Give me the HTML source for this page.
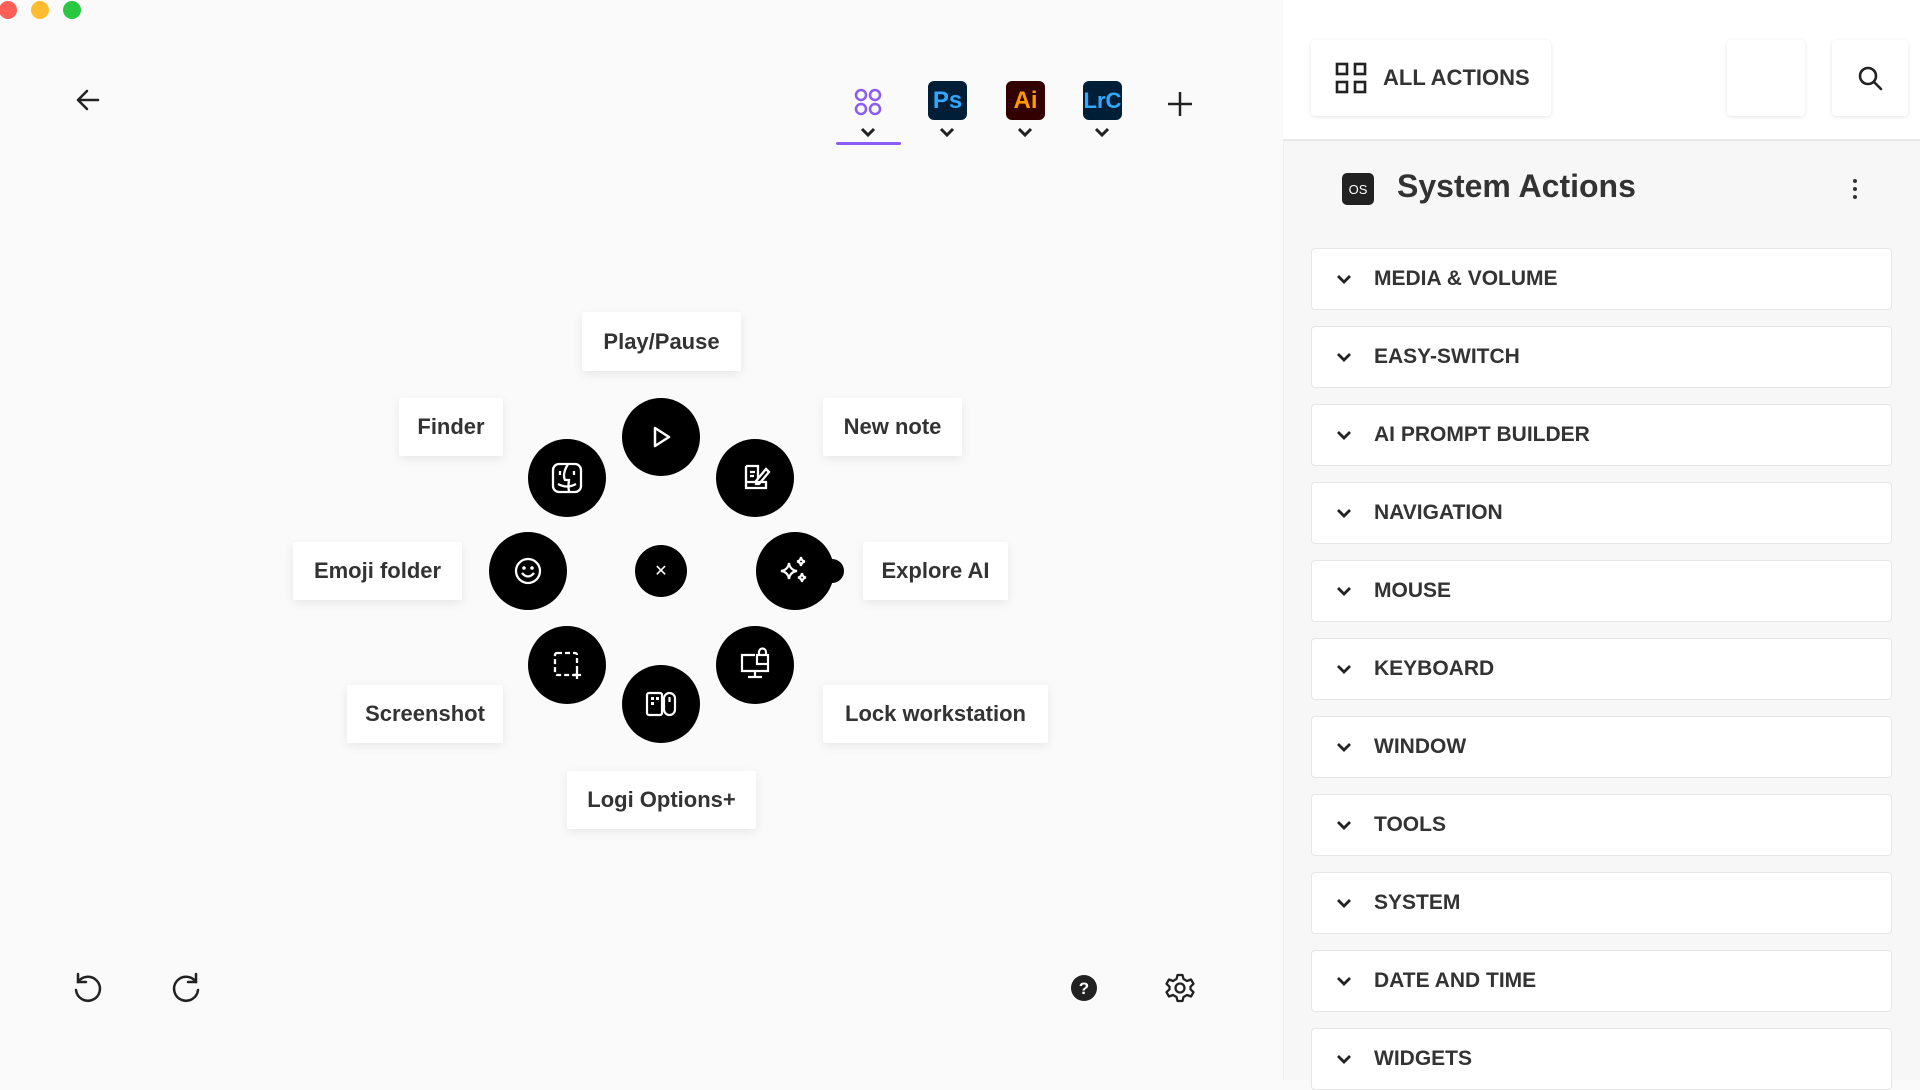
<!DOCTYPE html>
<html><head><meta charset="utf-8"><style>
*{margin:0;padding:0;box-sizing:border-box}
body{width:1920px;height:1080px;overflow:hidden;background:#fafafa;font-family:"Liberation Sans",sans-serif;color:#222;position:relative}
.abs{position:absolute}
.lbl{position:absolute;background:#fff;box-shadow:0 3px 10px rgba(0,0,0,.08);display:flex;align-items:center;justify-content:center;font-size:22px;font-weight:700;color:#333;border-radius:2px}
.dot{position:absolute;width:78px;height:78px;border-radius:50%;background:#000;display:flex;align-items:center;justify-content:center}
.row{position:absolute;left:1311px;width:581px;height:62px;background:#fff;border:1px solid #e6e6e6;border-radius:4px;display:flex;align-items:center;font-size:21px;font-weight:700;color:#333}
.row svg{margin-left:24px;margin-right:22px}
.tab{position:absolute;width:39px;height:39px;border-radius:6px;display:flex;align-items:center;justify-content:center;font-weight:700;font-size:24px}
.chev{position:absolute;top:126px}
</style></head><body>
<!-- traffic lights -->
<div class="abs" style="left:-1px;top:1px;width:18px;height:18px;border-radius:50%;background:#fe5f57"></div>
<div class="abs" style="left:31px;top:1px;width:18px;height:18px;border-radius:50%;background:#febc2e"></div>
<div class="abs" style="left:63px;top:1px;width:18px;height:18px;border-radius:50%;background:#28c840"></div>
<!-- back arrow -->
<svg class="abs" style="left:74px;top:86px" width="28" height="28" viewBox="0 0 28 28"><path d="M24 14H4M13 5L4 14l9 9" stroke="#222" stroke-width="2.5" fill="none" stroke-linecap="round" stroke-linejoin="round"/></svg>
<!-- tabs -->
<svg class="abs" style="left:852px;top:86px" width="32" height="32" viewBox="0 0 32 32"><g fill="none" stroke="#8b5cf6" stroke-width="2.5"><circle cx="9" cy="9" r="5"/><circle cx="23" cy="9" r="5"/><circle cx="9" cy="23" r="5"/><circle cx="23" cy="23" r="5"/></g></svg>
<div class="tab" style="left:928px;top:81px;background:#001e36;color:#31a8ff">Ps</div>
<div class="tab" style="left:1006px;top:81px;background:#330000;color:#ff9a00">Ai</div>
<div class="tab" style="left:1083px;top:81px;background:#001e36;color:#31a8ff;font-size:22px">LrC</div>
<svg class="chev" style="left:859px" width="18" height="12" viewBox="0 0 18 12"><path d="M3 3l6 6 6-6" stroke="#222" stroke-width="3" fill="none"/></svg>
<svg class="chev" style="left:938px" width="18" height="12" viewBox="0 0 18 12"><path d="M3 3l6 6 6-6" stroke="#222" stroke-width="3" fill="none"/></svg>
<svg class="chev" style="left:1016px" width="18" height="12" viewBox="0 0 18 12"><path d="M3 3l6 6 6-6" stroke="#222" stroke-width="3" fill="none"/></svg>
<svg class="chev" style="left:1093px" width="18" height="12" viewBox="0 0 18 12"><path d="M3 3l6 6 6-6" stroke="#222" stroke-width="3" fill="none"/></svg>
<div class="abs" style="left:836px;top:142px;width:65px;height:3px;background:#8b5cf6;border-radius:2px"></div>
<svg class="abs" style="left:1166px;top:90px" width="28" height="28" viewBox="0 0 28 28"><path d="M14 2v24M2 14h24" stroke="#222" stroke-width="2.5"/></svg>

<!-- radial -->
<div class="lbl" style="left:582px;top:312px;width:159px;height:59px">Play/Pause</div>
<div class="lbl" style="left:399px;top:398px;width:104px;height:58px">Finder</div>
<div class="lbl" style="left:823px;top:398px;width:139px;height:58px">New note</div>
<div class="lbl" style="left:293px;top:542px;width:169px;height:58px">Emoji folder</div>
<div class="lbl" style="left:863px;top:542px;width:145px;height:58px">Explore AI</div>
<div class="lbl" style="left:347px;top:685px;width:156px;height:58px">Screenshot</div>
<div class="lbl" style="left:823px;top:685px;width:225px;height:58px">Lock workstation</div>
<div class="lbl" style="left:567px;top:771px;width:189px;height:58px">Logi Options+</div>

<div class="dot" style="left:635px;top:545px;width:52px;height:52px"><span style="color:#fff;font-size:16px">✕</span></div>
<div class="dot" style="left:622px;top:398px"><svg width="30" height="30" viewBox="0 0 30 30"><path d="M9 6l14 9-14 9z" stroke="#fff" stroke-width="2.5" fill="none" stroke-linejoin="round"/></svg></div>
<div class="dot" style="left:716px;top:439px"><svg width="34" height="34" viewBox="0 0 34 34"><g stroke="#fff" stroke-width="2.3" fill="none"><path d="M8 5h12v12M8 5v22h20v-6H8"/><path d="M12 11h5M12 15h4M18 20l10-12 3 3-10 12h-3z"/></g></svg></div>
<div class="dot" style="left:756px;top:532px"><svg width="36" height="36" viewBox="0 0 36 36"><g stroke="#fff" stroke-width="2.2" fill="none"><path d="M12 10q1 7 8 8q-7 1-8 8q-1-7-8-8q7-1 8-8z"/><path d="M24 4q.5 4 4 4.5q-3.5.5-4 4.5q-.5-4-4-4.5q3.5-.5 4-4.5z"/><path d="M25 20q.5 4 4 4.5q-3.5.5-4 4.5q-.5-4-4-4.5q3.5-.5 4-4.5z"/></g></svg></div>
<div class="abs" style="left:826px;top:559px;width:18px;height:24px;border-radius:0 12px 12px 0;background:#000"></div>
<div class="dot" style="left:716px;top:626px"><svg width="36" height="36" viewBox="0 0 36 36"><g stroke="#fff" stroke-width="2.2" fill="none"><path d="M18 8H5v16h26v-6M18 24v5M11 30h14"/><rect x="20" y="8" width="11" height="9"/><path d="M22 8V5a3.5 3.5 0 0 1 7 0v3"/></g></svg></div>
<div class="dot" style="left:622px;top:665px"><svg width="36" height="36" viewBox="0 0 36 36"><g stroke="#fff" stroke-width="2.2" fill="none"><rect x="4" y="7" width="15" height="22" rx="2"/><rect x="21" y="7" width="11" height="22" rx="5.5"/><path d="M26.5 11v5"/></g><g fill="#fff"><rect x="8" y="11" width="3" height="3"/><rect x="13" y="11" width="3" height="3"/><rect x="8" y="16" width="3" height="3"/></g></svg></div>
<div class="dot" style="left:528px;top:626px"><svg width="36" height="36" viewBox="0 0 36 36"><g stroke="#fff" stroke-width="2.3" fill="none" stroke-dasharray="5 3"><rect x="6" y="6" width="22" height="22" rx="2"/></g><path d="M28 24v8M24 28h8" stroke="#fff" stroke-width="2.3"/></svg></div>
<div class="dot" style="left:489px;top:532px"><svg width="34" height="34" viewBox="0 0 34 34"><g stroke="#fff" stroke-width="2.3" fill="none"><circle cx="17" cy="17" r="12"/><path d="M11 19q6 7 12 0"/></g><circle cx="13" cy="14" r="1.8" fill="#fff"/><circle cx="21" cy="14" r="1.8" fill="#fff"/></svg></div>
<div class="dot" style="left:528px;top:439px"><svg width="38" height="38" viewBox="0 0 38 38"><g stroke="#fff" stroke-width="2.3" fill="none"><rect x="5" y="5" width="28" height="28" rx="6"/><path d="M20 5q-6 10-3 16h4q-1 6 0 12M12 12v4M26 12v4M10 25q9 5 18 0"/></g></svg></div>

<!-- bottom left -->
<svg class="abs" style="left:70px;top:970px" width="36" height="36" viewBox="0 0 36 36"><g stroke="#222" stroke-width="2.5" fill="none" stroke-linecap="round"><path d="M8 12A12 12 0 1 1 6 20"/><path d="M8 4v8h8"/></g></svg>
<svg class="abs" style="left:168px;top:970px" width="36" height="36" viewBox="0 0 36 36"><g stroke="#222" stroke-width="2.5" fill="none" stroke-linecap="round"><path d="M28 12A12 12 0 1 0 30 20"/><path d="M28 4v8h-8"/></g></svg>
<svg class="abs" style="left:1070px;top:974px" width="28" height="28" viewBox="0 0 28 28"><circle cx="14" cy="14" r="13" fill="#222"/><text x="14" y="20" text-anchor="middle" fill="#fff" font-size="17" font-weight="700" font-family="Liberation Sans">?</text></svg>
<svg class="abs" style="left:1164px;top:972px" width="32" height="32" viewBox="0 0 32 32"><g stroke="#222" stroke-width="2.3" fill="none"><circle cx="16" cy="16" r="4.5"/><path d="M13.5 3h5l1 4 3.5 2 4-1.5 2.5 4.3-3 2.9v2.6l3 2.9-2.5 4.3-4-1.5-3.5 2-1 4h-5l-1-4-3.5-2-4 1.5-2.5-4.3 3-2.9v-2.6l-3-2.9 2.5-4.3 4 1.5 3.5-2z" stroke-linejoin="round"/></g></svg>

<!-- right panel -->
<div class="abs" style="left:1283px;top:0;width:637px;height:1080px;background:#f7f7f7;border-left:1px solid #ececec"></div>
<div class="abs" style="left:1283px;top:0;width:637px;height:141px;background:#fff;border-bottom:2px solid #e8e8e8"></div>
<div class="abs" style="left:1311px;top:40px;width:240px;height:76px;background:#fff;border-radius:4px;box-shadow:0 1px 4px rgba(0,0,0,.1);display:flex;align-items:center;font-size:22px;font-weight:700;color:#333">
<svg style="margin-left:24px;margin-right:16px" width="32" height="32" viewBox="0 0 32 32"><g stroke="#222" stroke-width="2.6" fill="none"><rect x="2" y="2" width="10" height="10"/><rect x="20" y="2" width="10" height="10"/><rect x="2" y="20" width="10" height="10"/><rect x="20" y="20" width="10" height="10"/></g></svg>ALL ACTIONS</div>
<div class="abs" style="left:1727px;top:40px;width:78px;height:76px;background:#fff;border-radius:4px;box-shadow:0 1px 4px rgba(0,0,0,.1)"></div>
<div class="abs" style="left:1832px;top:40px;width:76px;height:76px;background:#fff;border-radius:4px;box-shadow:0 1px 4px rgba(0,0,0,.1)"></div>
<svg class="abs" style="left:1856px;top:64px" width="28" height="28" viewBox="0 0 28 28"><g stroke="#222" stroke-width="2.6" fill="none" stroke-linecap="round"><circle cx="12" cy="12" r="8"/><path d="M18 18l7 7"/></g></svg>
<div class="abs" style="left:1342px;top:173px;width:32px;height:32px;background:#222;border-radius:5px;color:#fff;font-size:13px;display:flex;align-items:center;justify-content:center">OS</div>
<div class="abs" style="left:1397px;top:168px;font-size:32px;font-weight:700;color:#333">System Actions</div>
<svg class="abs" style="left:1851px;top:178px" width="8" height="22" viewBox="0 0 8 22"><g fill="#333"><circle cx="4" cy="3" r="2"/><circle cx="4" cy="11" r="2"/><circle cx="4" cy="19" r="2"/></g></svg>

<div class="row" style="top:248px"><svg width="16" height="12" viewBox="0 0 16 12"><path d="M2 3l6 6 6-6" stroke="#222" stroke-width="2.8" fill="none"/></svg>MEDIA &amp; VOLUME</div>
<div class="row" style="top:326px"><svg width="16" height="12" viewBox="0 0 16 12"><path d="M2 3l6 6 6-6" stroke="#222" stroke-width="2.8" fill="none"/></svg>EASY-SWITCH</div>
<div class="row" style="top:404px"><svg width="16" height="12" viewBox="0 0 16 12"><path d="M2 3l6 6 6-6" stroke="#222" stroke-width="2.8" fill="none"/></svg>AI PROMPT BUILDER</div>
<div class="row" style="top:482px"><svg width="16" height="12" viewBox="0 0 16 12"><path d="M2 3l6 6 6-6" stroke="#222" stroke-width="2.8" fill="none"/></svg>NAVIGATION</div>
<div class="row" style="top:560px"><svg width="16" height="12" viewBox="0 0 16 12"><path d="M2 3l6 6 6-6" stroke="#222" stroke-width="2.8" fill="none"/></svg>MOUSE</div>
<div class="row" style="top:638px"><svg width="16" height="12" viewBox="0 0 16 12"><path d="M2 3l6 6 6-6" stroke="#222" stroke-width="2.8" fill="none"/></svg>KEYBOARD</div>
<div class="row" style="top:716px"><svg width="16" height="12" viewBox="0 0 16 12"><path d="M2 3l6 6 6-6" stroke="#222" stroke-width="2.8" fill="none"/></svg>WINDOW</div>
<div class="row" style="top:794px"><svg width="16" height="12" viewBox="0 0 16 12"><path d="M2 3l6 6 6-6" stroke="#222" stroke-width="2.8" fill="none"/></svg>TOOLS</div>
<div class="row" style="top:872px"><svg width="16" height="12" viewBox="0 0 16 12"><path d="M2 3l6 6 6-6" stroke="#222" stroke-width="2.8" fill="none"/></svg>SYSTEM</div>
<div class="row" style="top:950px"><svg width="16" height="12" viewBox="0 0 16 12"><path d="M2 3l6 6 6-6" stroke="#222" stroke-width="2.8" fill="none"/></svg>DATE AND TIME</div>
<div class="row" style="top:1028px"><svg width="16" height="12" viewBox="0 0 16 12"><path d="M2 3l6 6 6-6" stroke="#222" stroke-width="2.8" fill="none"/></svg>WIDGETS</div>
</body></html>
